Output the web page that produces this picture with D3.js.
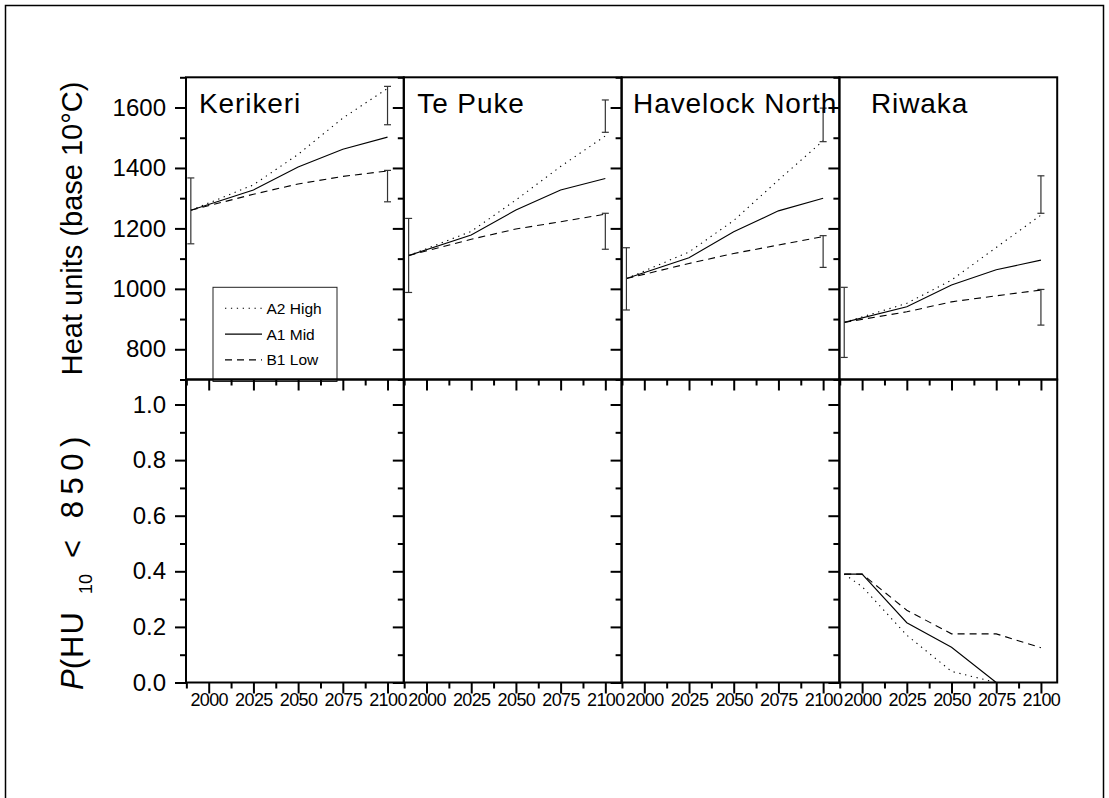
<!DOCTYPE html>
<html>
<head>
<meta charset="utf-8">
<script src="https://cdn.jsdelivr.net/npm/d3@7/dist/d3.min.js"></script>
<style>
  body { margin: 0; background: #fff; }
  svg { display: block; font-family: 'Liberation Sans', Arial, sans-serif; }
</style>
</head>
<body>
<div id="chart"></div>
<script>
// ---- data ----
const sites = ['Kerikeri', 'Te Puke', 'Havelock North', 'Riwaka']
const scenarios = ['A2 High', 'A1 Mid', 'B1 Low']
const years = [1990, 2025, 2050, 2075, 2100]

// heat units (base 10C), one array per site and scenario
const kerikeriHigh = [1260, 1344, 1445, 1565, 1663]
const kerikeriMid = [1260, 1327, 1403, 1462, 1502]
const kerikeriLow = [1260, 1313, 1347, 1372, 1390]
const tePukeHigh = [1110, 1190, 1294, 1405, 1506]
const tePukeMid = [1110, 1178, 1261, 1327, 1365]
const tePukeLow = [1110, 1164, 1198, 1222, 1247]
const havelockHigh = [1034, 1122, 1226, 1360, 1490]
const havelockMid = [1034, 1103, 1189, 1258, 1300]
const havelockLow = [1034, 1084, 1117, 1145, 1173]
const riwakaHigh = [889, 952, 1029, 1137, 1244]
const riwakaMid = [889, 941, 1013, 1063, 1095]
const riwakaLow = [889, 924, 957, 977, 996]

// error bars: [year, low, high]
const kerikeriBars = [[1990, 1149, 1367], [2100, 1543, 1670], [2100, 1288, 1392]]
const tePukeBars = [[1990, 988, 1233], [2100, 1518, 1625], [2100, 1131, 1250]]
const havelockBars = [[1990, 930, 1136], [2100, 1487, 1598], [2100, 1071, 1176]]
const riwakaBars = [[1990, 773, 1005], [2100, 1250, 1374], [2100, 880, 998]]

// P(HU10 < 850), only Riwaka is above zero
const probYears = [1990, 2000, 2025, 2050, 2075, 2100]
const riwakaProbHigh = [0.39, 0.345, 0.17, 0.04, 0.0, null]
const riwakaProbMid = [0.39, 0.39, 0.215, 0.127, 0.0, null]
const riwakaProbLow = [0.39, 0.39, 0.26, 0.175, 0.175, 0.125]

const yearTicks = [2000, 2025, 2050, 2075, 2100]
const yearMinor = [1987.5, 2012.5, 2037.5, 2062.5, 2087.5]
const heatTicks = [800, 1000, 1200, 1400, 1600]
const heatMinor = [700, 900, 1100, 1300, 1500, 1700]
const probTicks = [0, 0.2, 0.4, 0.6, 0.8, 1.0]
const probMinor = [0.1, 0.3, 0.5, 0.7, 0.9]

const heatSeries = [
  [kerikeriHigh, kerikeriMid, kerikeriLow],
  [tePukeHigh, tePukeMid, tePukeLow],
  [havelockHigh, havelockMid, havelockLow],
  [riwakaHigh, riwakaMid, riwakaLow]
]
const heatBars = [kerikeriBars, tePukeBars, havelockBars, riwakaBars]
const probSeries = [[], [], [], [riwakaProbHigh, riwakaProbMid, riwakaProbLow]]

// ---- layout ----
const width = 1109
const height = 798
const margin = { top: 77.3, left: 186 }
const panelWidth = 217.8
const topHeight = 302.2
const bottomHeight = 303
const titleOffsets = [13, 13.5, 11.5, 31.5]
const dashes = { 'A2 High': '1.3,4.6', 'A1 Mid': null, 'B1 Low': '7,5' }

const svg = d3
  .select('#chart')
  .append('svg')
  .attr('width', width)
  .attr('height', height)

// outer frame
svg
  .append('rect')
  .attr('x', 5.5)
  .attr('y', 5.5)
  .attr('width', 1098)
  .attr('height', 1000)
  .attr('fill', 'none')
  .attr('stroke', '#000')
  .attr('stroke-width', 1.5)

const x = d3.scaleLinear().domain([1987.3, 2109.1]).range([0, panelWidth])
const yHeat = d3.scaleLinear().domain([700, 1700]).range([topHeight, 0])
const yProb = d3.scaleLinear().domain([0, 1.09]).range([bottomHeight, 0])

function styleAxis(g) {
  g.select('.domain').remove()
  g.selectAll('line').attr('stroke', '#000').attr('stroke-width', 2)
}

function drawPanel(g, yScale, h, majors, minors, fmt, showY, showX) {
  g.append('g')
    .call(d3.axisLeft(yScale).tickValues(majors).tickSize(11).tickPadding(9)
      .tickFormat(showY ? fmt : ''))
    .call(styleAxis)
    .call(a => a.selectAll('text').attr('font-size', 24).attr('fill', '#000'))
  g.append('g')
    .call(d3.axisLeft(yScale).tickValues(minors).tickSize(6).tickFormat(''))
    .call(styleAxis)

  g.append('g')
    .attr('transform', `translate(0,${h})`)
    .call(d3.axisBottom(x).tickValues(yearTicks).tickSize(11).tickPadding(0)
      .tickFormat(showX ? d3.format('d') : ''))
    .call(styleAxis)
    .call(a => a.selectAll('text')
      .attr('font-size', 18)
      .attr('letter-spacing', -0.6)
      .attr('fill', '#000'))
  g.append('g')
    .attr('transform', `translate(0,${h})`)
    .call(d3.axisBottom(x).tickValues(yearMinor).tickSize(6).tickFormat(''))
    .call(styleAxis)

  g.append('rect')
    .attr('width', panelWidth)
    .attr('height', h)
    .attr('fill', 'none')
    .attr('stroke', '#000')
    .attr('stroke-width', 2)
}

sites.forEach(function(site, i) {
  // heat unit panel
  const top = svg
    .append('g')
    .attr('transform', `translate(${margin.left + i * panelWidth},${margin.top})`)

  const heatLine = d3
    .line()
    .x((d, j) => x(years[j]))
    .y(d => yHeat(d))

  top
    .selectAll('.heat-line')
    .data(heatSeries[i])
    .enter()
    .append('path')
    .attr('class', 'heat-line')
    .attr('d', heatLine)
    .attr('fill', 'none')
    .attr('stroke', '#000')
    .attr('stroke-width', 1.1)
    .attr('stroke-dasharray', (d, j) => dashes[scenarios[j]])

  const bars = top
    .selectAll('.bar')
    .data(heatBars[i])
    .enter()
    .append('g')
    .attr('class', 'bar')
    .attr('stroke', '#333')
    .attr('stroke-width', 1.2)
  bars
    .append('line')
    .attr('x1', d => x(d[0]))
    .attr('x2', d => x(d[0]))
    .attr('y1', d => yHeat(d[1]))
    .attr('y2', d => yHeat(d[2]))
  bars
    .append('line')
    .attr('x1', d => x(d[0]) - 3.5)
    .attr('x2', d => x(d[0]) + 3.5)
    .attr('y1', d => yHeat(d[1]))
    .attr('y2', d => yHeat(d[1]))
  bars
    .append('line')
    .attr('x1', d => x(d[0]) - 3.5)
    .attr('x2', d => x(d[0]) + 3.5)
    .attr('y1', d => yHeat(d[2]))
    .attr('y2', d => yHeat(d[2]))

  top
    .append('text')
    .text(site)
    .attr('x', titleOffsets[i])
    .attr('y', 36)
    .attr('font-size', 28)
    .attr('letter-spacing', 0.9)
    .attr('fill', '#000')

  if (i === 0) {
    const legend = top.append('g').attr('transform', 'translate(27,210)')
    legend
      .append('rect')
      .attr('width', 124)
      .attr('height', 94.2)
      .attr('fill', '#fff')
      .attr('stroke', '#222')
      .attr('stroke-width', 1)
    const rows = legend
      .selectAll('.legend-row')
      .data(scenarios)
      .enter()
      .append('g')
      .attr('transform', (d, j) => `translate(0,${21 + j * 25.8})`)
    rows
      .append('line')
      .attr('x1', 12)
      .attr('x2', 49)
      .attr('stroke', '#000')
      .attr('stroke-width', 1.1)
      .attr('stroke-dasharray', d => dashes[d])
    rows
      .append('text')
      .text(d => d)
      .attr('x', 53.5)
      .attr('dy', '0.35em')
      .attr('font-size', 15.5)
      .attr('fill', '#000')
  }

  drawPanel(top, yHeat, topHeight, heatTicks, heatMinor, d3.format('d'), i === 0, false)

  // probability panel
  const bottom = svg
    .append('g')
    .attr('transform', `translate(${margin.left + i * panelWidth},${margin.top + topHeight})`)

  const probLine = d3
    .line()
    .defined(d => d !== null)
    .x((d, j) => x(probYears[j]))
    .y(d => yProb(d))

  bottom
    .selectAll('.prob-line')
    .data(probSeries[i])
    .enter()
    .append('path')
    .attr('class', 'prob-line')
    .attr('d', probLine)
    .attr('fill', 'none')
    .attr('stroke', '#000')
    .attr('stroke-width', 1.1)
    .attr('stroke-dasharray', (d, j) => dashes[scenarios[j]])

  drawPanel(bottom, yProb, bottomHeight, probTicks, probMinor, d3.format('.1f'), i === 0, true)
})

// axis titles
svg
  .append('text')
  .attr('transform', `translate(82,${margin.top + topHeight / 2}) rotate(-90)`)
  .attr('text-anchor', 'middle')
  .attr('font-size', 29)
  .attr('fill', '#000')
  .text('Heat units (base 10°C)')

// rotated: text x runs upward, so x = -screen y
const probTitle = svg
  .append('text')
  .attr('transform', 'translate(83,0) rotate(-90)')
  .attr('font-size', 31)
  .attr('fill', '#000')
probTitle.append('tspan').attr('x', -690).attr('font-style', 'italic').text('P')
probTitle.append('tspan').attr('letter-spacing', 1).text('(HU')
probTitle.append('tspan').attr('x', -594).attr('font-size', 18).attr('dy', 9).text('10')
probTitle.append('tspan').attr('x', -558).attr('dy', -9).attr('letter-spacing', 6.5).text('< 850)')
</script>
</body>
</html>
